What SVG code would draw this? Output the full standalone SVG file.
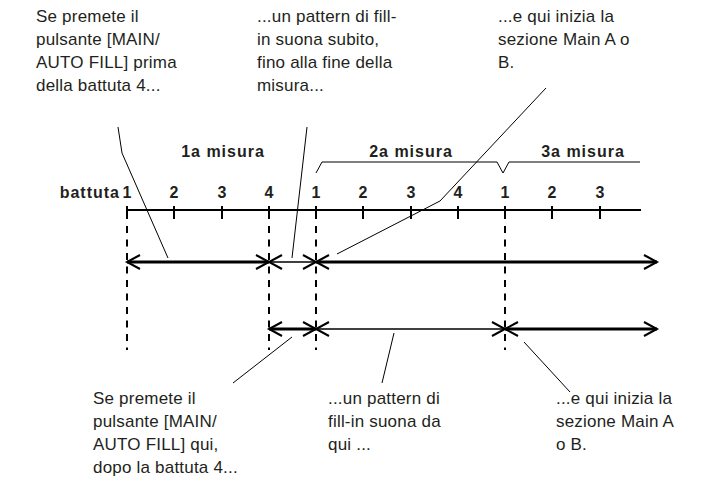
<svg xmlns="http://www.w3.org/2000/svg" width="704" height="487" viewBox="0 0 704 487">
<defs>
<style>
.t{font-family:"Liberation Sans",Arial,sans-serif;font-size:17px;letter-spacing:0.2px;fill:#231f20}
.b{font-family:"Liberation Sans",Arial,sans-serif;font-size:16px;font-weight:bold;fill:#231f20}
.w{letter-spacing:1px}
.bn{text-anchor:middle}
.ln{stroke:#000;fill:none}
.thick{stroke:#000;stroke-width:3;fill:none}
.thin{stroke:#000;stroke-width:1.4;fill:none}
.dash{stroke:#000;stroke-width:2;stroke-dasharray:7 6.5;fill:none}
.tick{stroke:#000;stroke-width:2}
.lead{stroke:#000;stroke-width:1;fill:none}
</style>
<marker id="ah" markerUnits="userSpaceOnUse" markerWidth="20" markerHeight="20" viewBox="-16 -10 20 20" refX="0" refY="0" orient="auto-start-reverse">
<path d="M-13 -7 L0 0 L-13 7" fill="none" stroke="#000" stroke-width="2"/>
</marker>
</defs>
<rect width="704" height="487" fill="#fff"/>

<g id="timeline">
<text class="b w" x="120" y="198" text-anchor="end">battuta</text>
<g class="b bn">
<text x="127" y="198">1</text><text x="174" y="198">2</text><text x="222" y="198">3</text><text x="269" y="198">4</text>
<text x="316" y="198">1</text><text x="363" y="198">2</text><text x="411" y="198">3</text><text x="458" y="198">4</text>
<text x="505" y="198">1</text><text x="552" y="198">2</text><text x="600" y="198">3</text>
</g>
<line class="ln" x1="127" y1="210" x2="641" y2="210" stroke-width="2"/>
<g class="tick">
<line x1="127" y1="206" x2="127" y2="219"/><line x1="174" y1="206" x2="174" y2="219"/><line x1="222" y1="206" x2="222" y2="219"/><line x1="269" y1="206" x2="269" y2="219"/>
<line x1="316" y1="206" x2="316" y2="219"/><line x1="363" y1="206" x2="363" y2="219"/><line x1="411" y1="206" x2="411" y2="219"/><line x1="458" y1="206" x2="458" y2="219"/>
<line x1="505" y1="206" x2="505" y2="219"/><line x1="552" y1="206" x2="552" y2="219"/><line x1="600" y1="206" x2="600" y2="219"/>
</g>
<g class="dash">
<line x1="127" y1="226" x2="127" y2="350"/>
<line x1="269" y1="226" x2="269" y2="350"/>
<line x1="316" y1="226" x2="316" y2="350"/>
<line x1="505" y1="226" x2="505" y2="350"/>
</g>
</g>

<g id="misure">
<text class="b bn w" x="223" y="157">1a misura</text>
<text class="b bn w" x="411" y="157">2a misura</text>
<text class="b bn w" x="583" y="157">3a misura</text>
<polyline class="lead" points="316,173 322,162 497,162 503,173 509,162 640,162"/>
</g>

<g id="connectors">
<line class="thick" x1="127" y1="262" x2="269" y2="262" marker-start="url(#ah)" marker-end="url(#ah)"/>
<line class="thin" x1="269" y1="262" x2="316" y2="262" marker-start="url(#ah)" marker-end="url(#ah)"/>
<line class="thick" x1="316" y1="262" x2="657" y2="262" marker-start="url(#ah)" marker-end="url(#ah)"/>
<line class="thick" x1="269" y1="329" x2="316" y2="329" marker-start="url(#ah)" marker-end="url(#ah)"/>
<line class="thin" x1="316" y1="329" x2="505" y2="329" marker-start="url(#ah)" marker-end="url(#ah)"/>
<line class="thick" x1="505" y1="329" x2="657" y2="329" marker-start="url(#ah)" marker-end="url(#ah)"/>
<polyline class="lead" points="118,127 122,153 168,258"/>
<line class="lead" x1="307" y1="127" x2="292" y2="258"/>
<polyline class="lead" points="546,88 440,201 337,254"/>
<line class="lead" x1="292" y1="337" x2="233" y2="383"/>
<line class="lead" x1="394" y1="333" x2="382" y2="383"/>
<line class="lead" x1="524" y1="342" x2="570" y2="392"/>
</g>

<g id="note-top-left">
<text class="t" x="36" y="22">Se premete il</text>
<text class="t" x="36" y="45">pulsante [MAIN/</text>
<text class="t" x="36" y="68">AUTO FILL] prima</text>
<text class="t" x="36" y="91">della battuta 4...</text>
</g>
<g id="note-top-mid">
<text class="t" x="257" y="22">...un pattern di fill-</text>
<text class="t" x="257" y="45">in suona subito,</text>
<text class="t" x="257" y="68">fino alla fine della</text>
<text class="t" x="257" y="91">misura...</text>
</g>
<g id="note-top-right">
<text class="t" x="498" y="22">...e qui inizia la</text>
<text class="t" x="498" y="45">sezione Main A o</text>
<text class="t" x="498" y="68">B.</text>
</g>
<g id="note-bottom-left">
<text class="t" x="93" y="404">Se premete il</text>
<text class="t" x="93" y="427">pulsante [MAIN/</text>
<text class="t" x="93" y="450">AUTO FILL] qui,</text>
<text class="t" x="93" y="473">dopo la battuta 4...</text>
</g>
<g id="note-bottom-mid">
<text class="t" x="328" y="404">...un pattern di</text>
<text class="t" x="328" y="427">fill-in suona da</text>
<text class="t" x="328" y="450">qui ...</text>
</g>
<g id="note-bottom-right">
<text class="t" x="556" y="404">...e qui inizia la</text>
<text class="t" x="556" y="427">sezione Main A</text>
<text class="t" x="556" y="450">o B.</text>
</g>
</svg>
